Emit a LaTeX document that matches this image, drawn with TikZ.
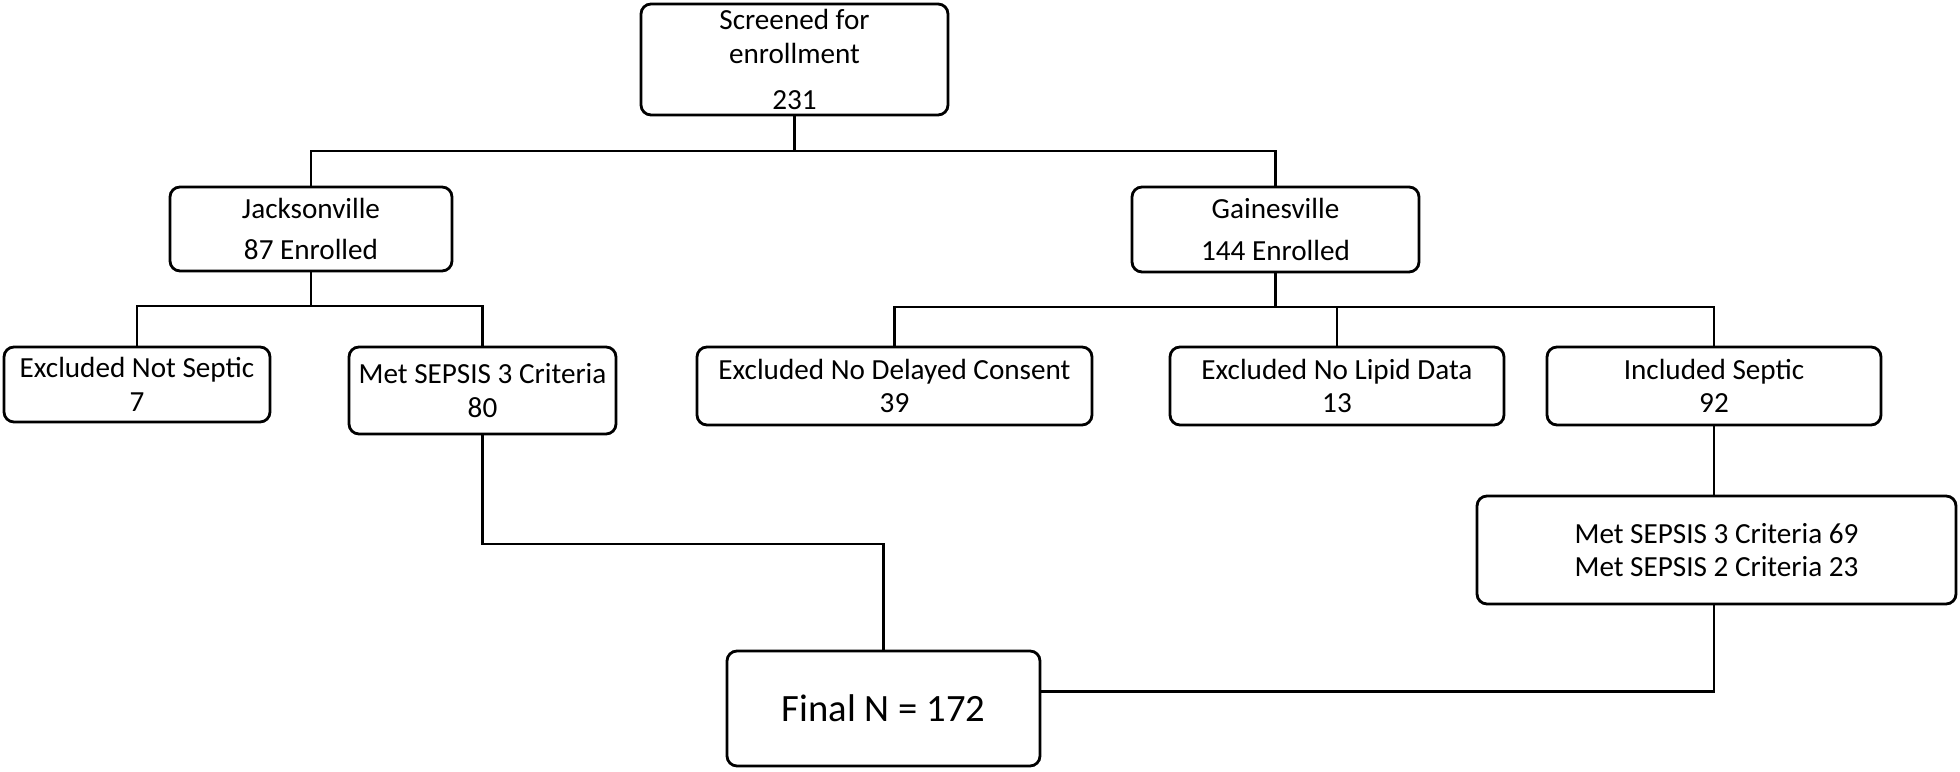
\documentclass[tikz,border=0pt]{standalone}
\usepackage{fontspec}
\setmainfont{Carlito}
\usetikzlibrary{positioning, calc}

\begin{document}
\begin{tikzpicture}[font=\fontsize{8.3}{9.6}\selectfont,
        kotak/.style={draw, line width=0.8pt, rounded corners=0.1cm, align=center, inner sep=0pt},
        garis/.style={line width=0.6pt}
    ]
        \useasboundingbox (0,0) rectangle (19.6,-7.72);

        \node[kotak, minimum width=3.07cm, minimum height=1.11cm] (screen) at (7.945,-0.595)
            {Screened for\\ enrollment\\[3.4pt] 231};
        \node[kotak, minimum width=2.82cm, minimum height=0.84cm] (jack) at (3.11,-2.29)
            {Jacksonville\\[2.2pt] 87 Enrolled};
        \node[kotak, minimum width=2.87cm, minimum height=0.85cm] (gain) at (12.755,-2.295)
            {Gainesville\\[2.2pt] 144 Enrolled};

        \node[kotak, minimum width=2.66cm, minimum height=0.75cm] (notsep) at (1.37,-3.845)
            {Excluded Not Septic\\ 7};
        \node[kotak, minimum width=2.67cm, minimum height=0.87cm] (met3) at (4.825,-3.905)
            {Met SEPSIS 3 Criteria\\ 80};
        \node[kotak, minimum width=3.95cm, minimum height=0.78cm] (delay) at (8.945,-3.86)
            {Excluded No Delayed Consent\\ 39};
        \node[kotak, minimum width=3.34cm, minimum height=0.78cm] (lipid) at (13.37,-3.86)
            {Excluded No Lipid Data\\ 13};
        \node[kotak, minimum width=3.34cm, minimum height=0.78cm] (incl) at (17.14,-3.86)
            {Included Septic\\ 92};
        \node[kotak, minimum width=4.79cm, minimum height=1.08cm] (both) at (17.165,-5.5)
            {Met SEPSIS 3 Criteria 69\\ Met SEPSIS 2 Criteria 23};
        \node[kotak, minimum width=3.13cm, minimum height=1.15cm, font=\fontsize{11}{13}\selectfont]
            (final) at (8.835,-7.085) {Final N = 172};

        \draw[garis] (screen.south) -- ++(0,-0.35) coordinate (s1);
        \draw[garis] (jack.north) |- (s1) -| (gain.north);
        \draw[garis] (jack.south) -- ++(0,-0.34) coordinate (j1);
        \draw[garis] (notsep.north) |- (j1) -| (met3.north);
        \draw[garis] (gain.south) -- ++(0,-0.34) coordinate (g1);
        \draw[garis] (delay.north) |- (g1) -| (incl.north);
        \draw[garis] (lipid.north) -- (lipid.north |- g1);
        \draw[garis] (incl.south) -- (incl.south |- both.north);
        \draw[garis] (met3.south) -- ++(0,-1.09) -| (final.north);
        \draw[garis] (incl.south |- both.south) |- ([yshift=0.17cm]final.east);
    \end{tikzpicture}
\end{document}
